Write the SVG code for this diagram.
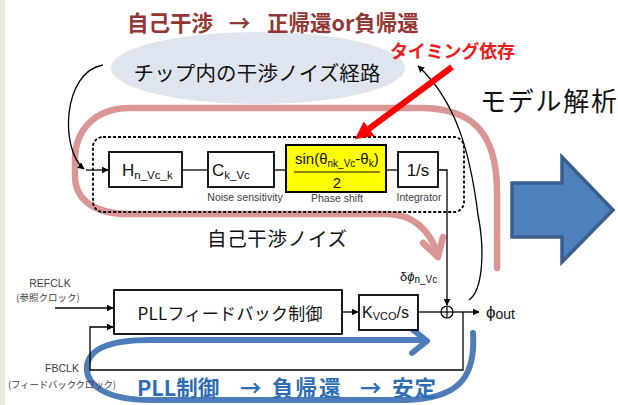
<svg xmlns="http://www.w3.org/2000/svg" width="618" height="405" viewBox="0 0 618 405">
<style>
.jp{font-family:"Noto Sans CJK JP","Liberation Sans",sans-serif}
.lat{font-family:"Liberation Sans",Arial,sans-serif}
.box{fill:#fff;stroke:#000;stroke-width:1.8}
.ln{fill:none;stroke:#000;stroke-width:1.3}
.lbl{font-family:"Liberation Sans",Arial,sans-serif;font-size:10.5px;fill:#404040;text-anchor:middle}
</style>
<defs>
<marker id="ah" viewBox="0 0 10 10" refX="9" refY="5" markerWidth="7" markerHeight="7" markerUnits="userSpaceOnUse" orient="auto"><path d="M0,0 L10,5 L0,10 z" fill="#000"/></marker>
<marker id="ahr" viewBox="0 0 10 10" refX="5" refY="5" markerWidth="18" markerHeight="18" markerUnits="userSpaceOnUse" orient="auto"><path d="M0,0 L10,5 L0,10 z" fill="#ff0000"/></marker>
</defs>
<rect width="618" height="405" fill="#fff"/>
<rect x="0" y="0" width="5" height="405" fill="#ececdc"/>

<g id="ellipse-path">
<ellipse cx="258" cy="68" rx="147" ry="36" fill="#dfe5ef"/>
<text class="jp" x="257" y="81" font-size="20.5" text-anchor="middle" textLength="247" fill="#111">チップ内の干渉ノイズ経路</text>
</g>

<g id="title">
<text class="jp" y="31" font-size="21.5" font-weight="bold" fill="#943634"><tspan x="127">自己干渉</tspan><tspan x="229">→</tspan><tspan x="267">正帰還or負帰還</tspan></text>
</g>

<g id="timing">
<text class="jp" x="390" y="58" font-size="18" font-weight="bold" fill="#ee1c1c" textLength="125">タイミング依存</text>
</g>

<g id="model">
<text class="jp" x="480" y="111" font-size="26" fill="#111" textLength="137">モデル解析</text>
</g>

<g id="pink-loop">
<path d="M497,268 L497,192 C497,132 472,108 420,108 L130,108 C95,108 75,130 75,160 L75,176 C75,200 95,214 128,214 L388,214 C412,214 430,230 437,253" fill="none" stroke="#d99694" stroke-width="6.5" stroke-linecap="round"/>
<path d="M423,243 L438,257 L443,237" fill="none" stroke="#d99694" stroke-width="6.5" stroke-linecap="round" stroke-linejoin="round"/>
</g>

<g id="blue-loop">
<path d="M473,333 C476,378 458,399 405,400 L150,400 C108,400 85,386 87,366 C89,349 108,340 150,340 L422,340" fill="none" stroke="#4f7dba" stroke-width="6" stroke-linecap="round"/>
<path d="M412,329 L427,341 L412,353" fill="none" stroke="#4f7dba" stroke-width="6" stroke-linecap="round" stroke-linejoin="round"/>
</g>

<g id="dashed-group">
<rect x="93" y="137" width="371" height="75" rx="10" fill="none" stroke="#000" stroke-width="1.8" stroke-dasharray="3,2"/>
</g>

<g id="H">
<rect class="box" x="109" y="152" width="73" height="35"/>
<text class="lat" x="122" y="176" font-size="17" fill="#111">H<tspan font-size="11.5" dy="3">n_Vc_k</tspan></text>
</g>
<g id="C">
<rect class="box" x="208" y="152" width="66" height="35"/>
<text class="lat" x="212" y="176" font-size="17" fill="#111">C<tspan font-size="11.5" dy="3">k_Vc</tspan></text>
<text class="lbl" x="245" y="201">Noise sensitivity</text>
</g>
<g id="phase">
<rect x="286" y="145" width="100" height="47" fill="#ffff00" stroke="#000" stroke-width="2"/>
<text class="lat" x="295" y="164" font-size="15" fill="#111">sin(θ<tspan font-size="10" dy="3">nk_Vc</tspan><tspan dy="-3">-θ</tspan><tspan font-size="10" dy="3">k</tspan><tspan dy="-3">)</tspan></text>
<line x1="294" y1="172" x2="380" y2="172" stroke="#111" stroke-width="1.2"/>
<text class="lat" x="337" y="188" font-size="15" fill="#111" text-anchor="middle">2</text>
<text class="lbl" x="337" y="202">Phase shift</text>
</g>
<g id="integ">
<rect class="box" x="398" y="152" width="40" height="35"/>
<text class="lat" x="418" y="176" font-size="17" fill="#111" text-anchor="middle">1/s</text>
<text class="lbl" x="419" y="201">Integrator</text>
</g>

<g id="noise-label">
<text class="jp" x="207" y="246" font-size="19.5" fill="#111" textLength="140">自己干渉ノイズ</text>
</g>

<g id="refclk">
<text class="lbl" x="50" y="287">REFCLK</text>
<text class="jp" x="48" y="301" font-size="9.5" fill="#404040" text-anchor="middle">(参照クロック)</text>
</g>
<g id="fbclk">
<text class="lbl" x="62" y="372">FBCLK</text>
<text class="jp" x="62" y="388" font-size="9.5" fill="#404040" text-anchor="middle" textLength="108">(フィードバッククロック)</text>
</g>

<g id="pll">
<rect class="box" x="114" y="290" width="228" height="44"/>
<text class="jp" x="230" y="320" font-size="17" fill="#111" text-anchor="middle" textLength="185">PLLフィードバック制御</text>
</g>
<g id="kvco">
<rect class="box" x="359" y="295" width="59" height="35"/>
<text class="lat" x="362" y="318" font-size="16" fill="#111">K<tspan font-size="11" dy="2">VCO</tspan><tspan dy="-2">/s</tspan></text>
</g>
<g id="sum">
<circle cx="447" cy="312" r="6" fill="#fff" stroke="#000" stroke-width="1.2"/>
<line x1="441" y1="312" x2="453" y2="312" stroke="#000" stroke-width="1.2"/>
<line x1="447" y1="306" x2="447" y2="318" stroke="#000" stroke-width="1.2"/>
</g>
<g id="phiout">
<text class="lat" x="486" y="318" font-size="17" fill="#111">ϕ<tspan font-size="14" dy="1">out</tspan></text>
</g>
<g id="dphi">
<text class="lat" x="400" y="281" font-size="13" fill="#111">δ<tspan font-style="italic">ϕ</tspan><tspan font-size="10" dy="2">n_Vc</tspan></text>
</g>

<g id="blue-text">
<text class="jp" y="396" font-size="21.5" font-weight="bold" fill="#2e6db4"><tspan x="137">PLL制御</tspan><tspan x="240">→</tspan><tspan x="272" letter-spacing="2">負帰還</tspan><tspan x="360">→</tspan><tspan x="392" letter-spacing="1">安定</tspan></text>
</g>

<g id="big-arrow">
<path d="M512,183 L562,183 L562,157 L613,210 L562,262 L562,237 L512,237 Z" fill="#4f81bd" stroke="#3a5f8f" stroke-width="3.5" stroke-linejoin="miter"/>
</g>

<g id="connectors">
<path class="ln" d="M103,65 C62,72 60,150 84,169" marker-end="url(#ah)"/>
<line class="ln" x1="86" y1="170" x2="108" y2="170" marker-end="url(#ah)"/>
<line class="ln" x1="182" y1="170" x2="208" y2="170"/>
<line class="ln" x1="274" y1="170" x2="286" y2="170"/>
<line class="ln" x1="386" y1="170" x2="398" y2="170"/>
<path class="ln" d="M438,170 L447,170 L447,305" marker-end="url(#ah)"/>
<path class="ln" d="M469,300 C483,290 485,250 478,215 C470,150 455,100 418,66" marker-end="url(#ah)"/>
<line x1="452" y1="67" x2="362" y2="134" stroke="#ff0000" stroke-width="6" marker-end="url(#ahr)"/>
<line class="ln" x1="55" y1="308" x2="113" y2="308" marker-end="url(#ah)"/>
<path class="ln" d="M463,312 L463,370 L90,370 L90,327 L113,327" marker-end="url(#ah)"/>
<line class="ln" x1="342" y1="312" x2="358" y2="312" marker-end="url(#ah)"/>
<line class="ln" x1="418" y1="312" x2="441" y2="312"/>
<line class="ln" x1="453" y1="312" x2="479" y2="312" marker-end="url(#ah)"/>
</g>
</svg>
